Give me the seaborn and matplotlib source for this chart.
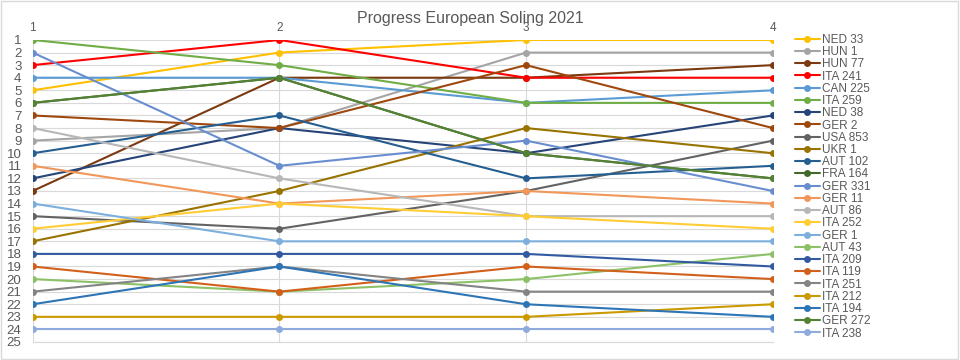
import pandas as pd
import numpy as np
import matplotlib.pyplot as plt
import seaborn as sns

# boats in legend order
boats = ['NED 33', 'HUN 1', 'HUN 77', 'ITA 241', 'CAN 225', 'ITA 259', 'NED 38',
         'GER 2', 'USA 853', 'UKR 1', 'AUT 102', 'FRA 164', 'GER 331', 'GER 11',
         'AUT 86', 'ITA 252', 'GER 1', 'AUT 43', 'ITA 209', 'ITA 119', 'ITA 251',
         'ITA 212', 'ITA 194', 'GER 272', 'ITA 238']

races = [1, 2, 3, 4]

# overall ranking after each race
race1 = [5, 9, 13, 3, 4, 1, 12, 7, 15, 17, 10, 6, 2, 11, 8, 16, 14, 20, 18, 19, 21, 23, 22, 6, 24]
race2 = [2, 8, 4, 1, 4, 3, 8, 8, 16, 13, 7, 4, 11, 14, 12, 14, 17, 21, 18, 21, 19, 23, 19, 4, 24]
race3 = [1, 2, 4, 4, 6, 6, 10, 3, 13, 8, 12, 10, 9, 13, 15, 15, 17, 20, 18, 19, 21, 23, 22, 10, 24]
race4 = [1, 2, 3, 4, 5, 6, 7, 8, 9, 10, 11, 12, 13, 14, 15, 16, 17, 18, 19, 20, 21, 22, 23, 12, 24]

colors = ['#FFC000', '#A5A5A5', '#7B3A10', '#FF0000', '#5B9BD5', '#70AD47', '#264478',
          '#9E480E', '#636363', '#997300', '#255E91', '#43682B', '#698ED0', '#F1975A',
          '#B7B7B7', '#FFCD33', '#7CAFDD', '#8CC168', '#335AA1', '#D2601A', '#848484',
          '#CC9A00', '#2E75B6', '#548235', '#8FAADC']

title = 'Progress European Soling 2021'

# long form table
rows = []
for i, b in enumerate(boats):
    for r, vals in zip(races, [race1, race2, race3, race4]):
        rows.append({'boat': b, 'race': r, 'rank': vals[i]})
df = pd.DataFrame(rows)

sns.set_style('white')
plt.rcParams['font.family'] = ['Liberation Sans', 'DejaVu Sans']

fig = plt.figure(figsize=(9.6, 3.6), dpi=100)
ax = fig.add_axes([0.034, 0.05, 0.771, 0.839])

sns.lineplot(data=df, x='race', y='rank', hue='boat', hue_order=boats,
             palette=dict(zip(boats, colors)), marker='o', markersize=5,
             markeredgewidth=0, linewidth=1.5, sort=False, ax=ax)

ax.set_xlim(1, 4)
ax.set_ylim(25, 1)
ax.set_xticks(races)
ax.set_yticks(range(1, 26))
ax.xaxis.tick_top()
ax.tick_params(axis='x', length=0, labelsize=8.5, colors='#595959', pad=4)
ax.tick_params(axis='y', length=0, labelsize=9.5, colors='#595959', pad=8)
ax.set_xlabel('')
ax.set_ylabel('')
ax.grid(True, color='#D9D9D9', linewidth=0.8)
ax.set_axisbelow(True)
for s in ax.spines.values():
    s.set_visible(False)
ax.spines['bottom'].set_visible(True)
ax.spines['bottom'].set_color('#D9D9D9')

fig.text(0.49, 0.948, title, ha='center', va='center', fontsize=11.5, color='#595959')

handles, labels = ax.get_legend_handles_labels()
ax.legend(handles, labels, loc='upper left', bbox_to_anchor=(0.823, 0.919),
          bbox_transform=fig.transFigure, frameon=False, fontsize=8.5,
          labelspacing=0.02, handlelength=2.1, handletextpad=0.2,
          borderaxespad=0, labelcolor='#595959')

# thin frame around the chart
fig.patches.append(plt.Rectangle((0.001, 0.002), 0.997, 0.995, transform=fig.transFigure,
                                 fill=False, edgecolor='#D9D9D9', linewidth=1))

fig.savefig('out.png', dpi=100)
